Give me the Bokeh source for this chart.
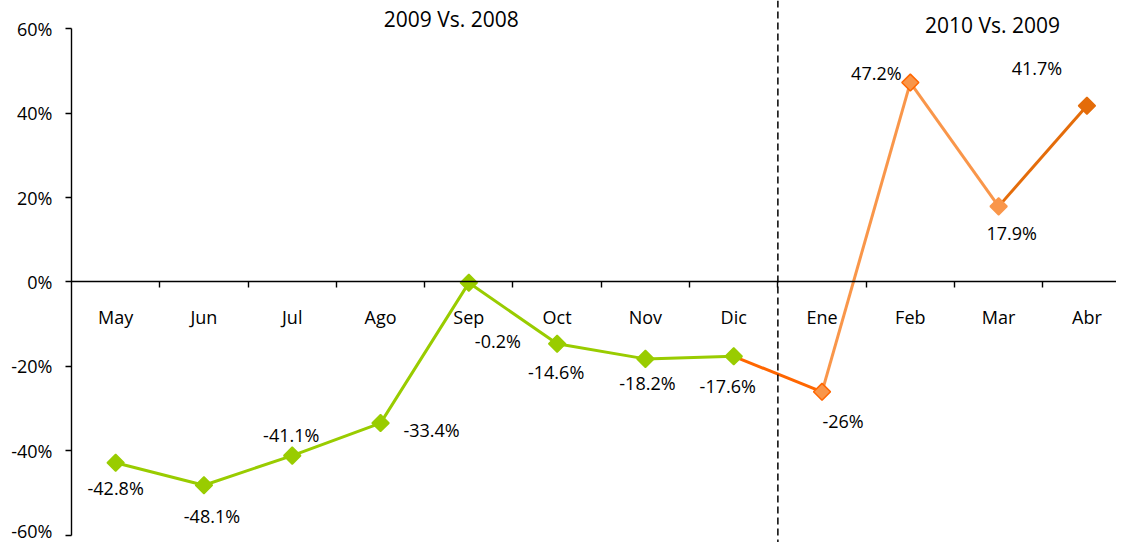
import math
from bokeh.plotting import figure
from bokeh.models import (LinearAxis, FixedTicker, PrintfTickFormatter, Span,
                          Range1d, Label, ColumnDataSource)
from bokeh.core.properties import value
from bokeh.embed import file_html
from bokeh.resources import INLINE

# ---- data ----
months = ["May", "Jun", "Jul", "Ago", "Sep", "Oct", "Nov", "Dic",
          "Ene", "Feb", "Mar", "Abr"]
values = [-42.8, -48.1, -41.1, -33.4, -0.2, -14.6, -18.2, -17.6,
          -26.0, 47.2, 17.9, 41.7]
value_labels = ["-42.8%", "-48.1%", "-41.1%", "-33.4%", "-0.2%", "-14.6%",
                "-18.2%", "-17.6%", "-26%", "47.2%", "17.9%", "41.7%"]
period_titles = ["2009 Vs. 2008", "2010 Vs. 2009"]
y_ticks = [-60, -40, -20, 0, 20, 40, 60]

# ---- styles ----
FONT = "Open Sans"
GREEN = "#99CC00"
ORANGE_LIGHT = "#F9964A"
ORANGE_BRIGHT = "#FF6600"
ORANGE_DARK = "#E46C0A"

n = len(months)
xs = [i + 0.5 for i in range(n)]
split = months.index("Ene")  # boundary between the two periods

label_dx = [0, 8, -1, 51, 29, -1, 2, -6, 21, -34, 13, -50]
label_dy = [25, 31, -21, 7, 58, 28, 24, 30, 29, -10, 27, -38]

marker_fill = [GREEN] * split + [ORANGE_LIGHT, ORANGE_LIGHT, ORANGE_LIGHT, ORANGE_DARK]
marker_line = [GREEN] * split + [ORANGE_BRIGHT, ORANGE_BRIGHT, ORANGE_LIGHT, ORANGE_DARK]
seg_colors = [ORANGE_BRIGHT, ORANGE_LIGHT, ORANGE_LIGHT, ORANGE_DARK]

p = figure(width=1116, height=542, output_backend="svg", toolbar_location=None,
           x_range=Range1d(0, 11.835), y_range=Range1d(-61.66, 66.63),
           x_axis_location=None, y_axis_location=None,
           min_border_left=71, min_border_right=0, min_border_top=0,
           min_border_bottom=0)
p.outline_line_color = None
p.xgrid.visible = False
p.ygrid.visible = False
p.background_fill_color = "white"
p.border_fill_color = "white"

# y axis
yax = LinearAxis(ticker=FixedTicker(ticks=y_ticks),
                 formatter=PrintfTickFormatter(format="%d%%"),
                 bounds=(y_ticks[0], y_ticks[-1]))
yax.axis_line_color = "black"
yax.axis_line_width = 1.4
yax.major_tick_line_color = "black"
yax.major_tick_line_width = 1.4
yax.major_tick_out = 6
yax.major_tick_in = 0
yax.minor_tick_line_color = None
yax.major_label_text_font = FONT
yax.major_label_text_font_size = "18px"
yax.major_label_text_color = "black"
yax.major_label_standoff = 13
p.add_layout(yax, "left")

# x axis line + boundary ticks at y=0
xax = LinearAxis(ticker=FixedTicker(ticks=list(range(1, n))), fixed_location=0)
xax.axis_line_color = "black"
xax.axis_line_width = 1.4
xax.major_tick_line_color = "black"
xax.major_tick_line_width = 1.4
xax.major_tick_out = 6
xax.major_tick_in = 0
xax.minor_tick_line_color = None
xax.major_label_text_alpha = 0
xax.major_label_text_font_size = "1px"
p.add_layout(xax, "below")

# category labels axis
lax = LinearAxis(ticker=FixedTicker(ticks=xs), fixed_location=0,
                 major_label_overrides={x: m for x, m in zip(xs, months)})
lax.axis_line_color = None
lax.major_tick_line_color = None
lax.minor_tick_line_color = None
lax.major_label_text_font = FONT
lax.major_label_text_font_size = "18px"
lax.major_label_text_color = "black"
lax.major_label_standoff = 17
p.add_layout(lax, "below")

# dashed separator
p.add_layout(Span(location=split, dimension="height", line_color="black",
                  line_width=1.5, line_dash="7 4"))

# lines
p.line(xs[:split], values[:split], line_color=GREEN, line_width=3)
p.segment(x0=xs[split - 1:n - 1], y0=values[split - 1:n - 1],
          x1=xs[split:n], y1=values[split:n],
          line_color=seg_colors, line_width=3)

# markers
src = ColumnDataSource(dict(x=xs, y=values, fill=marker_fill, line=marker_line,
                            lab=value_labels, dx=label_dx, dy=label_dy))
p.scatter("x", "y", source=src, marker="square", angle=math.pi / 4, size=12,
          fill_color="fill", line_color="line", line_width=1.5)

# value labels
p.text("x", "y", text="lab", source=src, x_offset="dx", y_offset="dy",
       text_align="center", text_baseline="middle", text_font=value(FONT),
       text_font_size="18px", text_color="black")

# period titles
p.add_layout(Label(x=4.3, y=62.3, text=period_titles[0], text_align="center",
                   text_baseline="middle", text_font=FONT,
                   text_font_size="21px", text_color="black"))
p.add_layout(Label(x=10.43, y=60.85, text=period_titles[1], text_align="center",
                   text_baseline="middle", text_font=FONT,
                   text_font_size="21px", text_color="black"))

open("out.html", "w").write(file_html(p, INLINE))
